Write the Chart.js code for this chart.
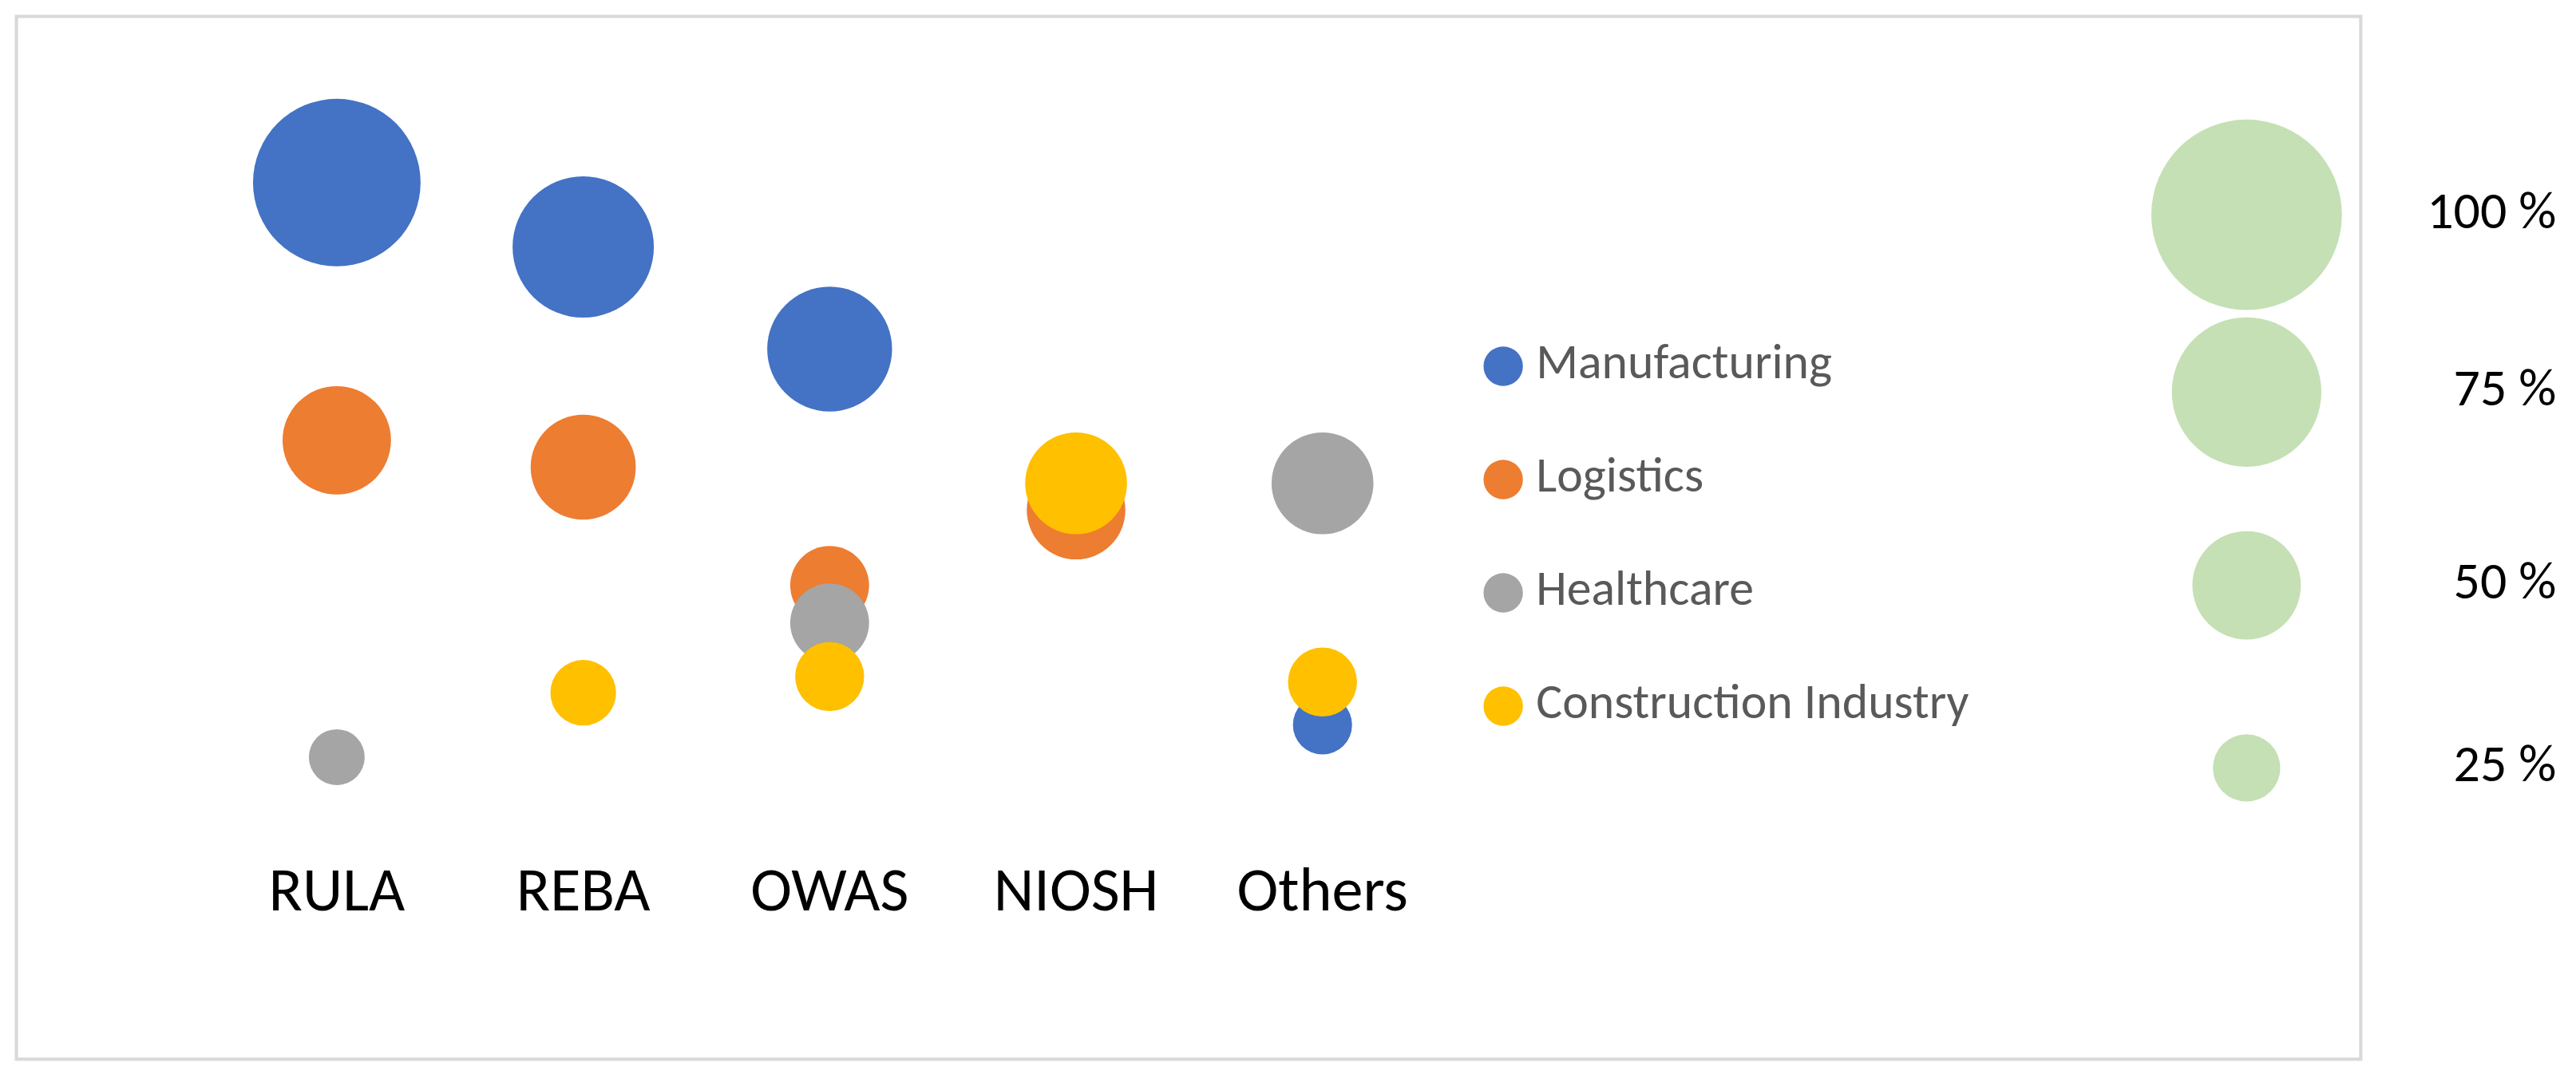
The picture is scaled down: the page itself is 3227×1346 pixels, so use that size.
<!DOCTYPE html>
<html>
<head>
<meta charset="utf-8">
<script src="https://cdn.jsdelivr.net/npm/chart.js@4/dist/chart.umd.min.js"></script>
<style>
  body { margin: 0; background: #fff; }
  #wrap { width: 3227px; height: 1346px; }
</style>
</head>
<body>
<div id="wrap"><canvas id="chart" width="3227" height="1346"></canvas></div>
<script>
// categories along x (index positions)
const methods = ["RULA", "REBA", "OWAS", "NIOSH", "Others"];
// y level and bubble size (%) per sector, per method (null = absent)
const manufacturingY = [83, 77, 67.5, null, 32.5];
const manufacturingSize = [86, 70, 60, null, 20];
const logisticsY = [59, 56.5, 45.5, 52.5, null];
const logisticsSize = [50, 48, 32, 44, null];
const healthcareY = [29.5, null, 42, null, 55];
const healthcareSize = [18, null, 32, null, 46];
const constructionY = [null, 35.5, 37, 55, 36.5];
const constructionSize = [null, 24, 26, 46, 26];
// size key
const sizeKey = [100, 75, 50, 25];
const sizeKeyY = [80, 63.5, 45.5, 28.5];

const k = 3227 / 1568;
const radiusFor = (pct) => k * (8 + 0.5 * pct);

function points(ys, sizes) {
  const out = [];
  ys.forEach((y, i) => {
    if (y !== null) out.push({ x: i, y: y, size: sizes[i] });
  });
  return out;
}

const series = [
  { label: "Manufacturing", color: "#4472C4", ys: manufacturingY, sizes: manufacturingSize, order: 4 },
  { label: "Logistics", color: "#ED7D31", ys: logisticsY, sizes: logisticsSize, order: 3 },
  { label: "Healthcare", color: "#A5A5A5", ys: healthcareY, sizes: healthcareSize, order: 2 },
  { label: "Construction Industry", color: "#FFC000", ys: constructionY, sizes: constructionSize, order: 1 },
];

const datasets = series.map((s) => ({
  label: s.label,
  data: points(s.ys, s.sizes),
  backgroundColor: s.color,
  borderWidth: 0,
  order: s.order,
  radius: (c) => radiusFor(c.raw.size),
}));
datasets.push({
  label: "size",
  data: sizeKey.map((p, i) => ({ x: 7.75, y: sizeKeyY[i], size: p })),
  backgroundColor: "#C5E0B4",
  borderWidth: 0,
  order: 5,
  radius: (c) => radiusFor(c.raw.size),
});

const decor = {
  id: "decor",
  beforeDraw(chart) {
    const ctx = chart.ctx;
    ctx.save();
    ctx.strokeStyle = "#D9D9D9";
    ctx.lineWidth = 2 * k;
    ctx.strokeRect(10 * k, 10 * k, 1427 * k, 635 * k);
    ctx.restore();
  },
  afterDraw(chart) {
    const ctx = chart.ctx;
    const xs = chart.scales.x, ys = chart.scales.y;
    ctx.save();
    ctx.textBaseline = "middle";
    // category labels
    ctx.fillStyle = "#000";
    ctx.textAlign = "center";
    ctx.font = `${38 * k}px Calibri, Carlito, "Open Sans", sans-serif`;
    methods.forEach((m, i) => ctx.fillText(m, xs.getPixelForValue(i), 545 * k));
    // series legend
    ctx.textAlign = "left";
    ctx.font = `${30 * k}px Calibri, Carlito, "Open Sans", sans-serif`;
    series.forEach((s, i) => {
      const y = (223 + 69 * i) * k;
      ctx.fillStyle = s.color;
      ctx.beginPath();
      ctx.arc(915 * k, y, 12 * k, 0, Math.PI * 2);
      ctx.fill();
      ctx.fillStyle = "#595959";
      ctx.fillText(s.label, 935 * k, y);
    });
    // size key labels
    ctx.fillStyle = "#000";
    ctx.textAlign = "right";
    ctx.font = `${32 * k}px Calibri, Carlito, "Open Sans", sans-serif`;
    sizeKey.forEach((p, i) => {
      ctx.fillText(p + " %", 1556 * k, ys.getPixelForValue(sizeKeyY[i]));
    });
    ctx.restore();
  },
};

new Chart(document.getElementById("chart").getContext("2d"), {
  type: "bubble",
  data: { datasets },
  options: {
    responsive: false,
    animation: false,
    clip: false,
    layout: { padding: 0, autoPadding: false },
    plugins: { legend: { display: false }, tooltip: { enabled: false } },
    scales: {
      x: { type: "linear", min: -205 / 150, max: (1568 - 205) / 150, display: false },
      y: { type: "linear", min: 0, max: 100, display: false },
    },
  },
  plugins: [decor],
});
</script>
</body>
</html>
